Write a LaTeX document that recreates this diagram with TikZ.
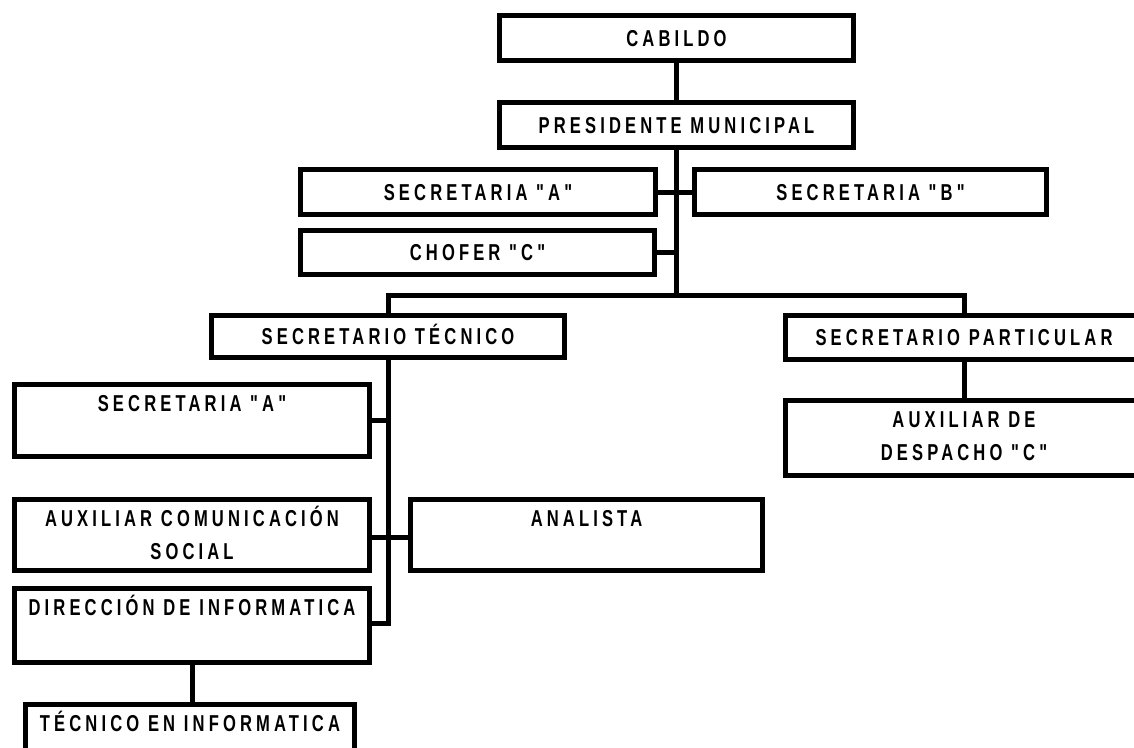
\documentclass[tikz,border=0pt]{standalone}
\usepackage{fontspec}
\newfontfamily\orgfont{Liberation Sans}[FakeStretch=0.72, LetterSpace=18]
\tikzset{
  lbl/.style={font=\orgfont\bfseries\fontsize{23}{33}\selectfont, inner sep=0pt,
    text height=16pt, text depth=0pt, align=center},
  lbltwo/.style={lbl, text height=49pt},
  box/.style={draw, line width=5pt, fill=white, inner sep=0pt, lbl},
  conn/.style={line width=5pt},
}
\begin{document}
\begin{tikzpicture}[x=1pt,y=-1pt]
\useasboundingbox[fill=white] (0,0) rectangle (1134,747);
% connectors
\coordinate (barc) at (676.5,295);
\draw[conn] (676.5,38) -- (676.5,125);
\draw[conn] (676.5,125) -- (barc);
\draw[conn] (478,192) -- (870.5,192);
\draw[conn] (477.5,252.5) -- (676.5,252.5);
\draw[conn] (388,336.5) |- (barc) -| (964,337.5);
\draw[conn] (964,337.5) -- (964,438);
\draw[conn] (388,336.5) |- (192,623);
\draw[conn] (192,420.5) -- (388,420.5);
\draw[conn] (192,537) -- (586.5,537);
\draw[conn] (192,625.5) -- (192,731);
% boxes
\node[box, minimum width=354pt, minimum height=45pt] (cab) at (676.5,38) {CABILDO};
\node[box, minimum width=354pt, minimum height=45pt] (pres) at (676.5,125) {PRESIDENTE MUNICIPAL};
\node[box, minimum width=355pt, minimum height=45pt] (secA1) at (478,192) {SECRETARIA "A"};
\node[box, minimum width=352pt, minimum height=45pt] (secB) at (870.5,192) {SECRETARIA "B"};
\node[box, minimum width=354pt, minimum height=44pt] (chof) at (477.5,252.5) {CHOFER "C"};
\node[box, minimum width=353pt, minimum height=42pt] (st) at (388,336.5) {SECRETARIO TÉCNICO};
\node[box, minimum width=357pt, minimum height=44pt] (sp) at (964,337.5) {SECRETARIO PARTICULAR};
\node[box, minimum width=357pt, minimum height=75pt] (auxd) at (964,438) {};
\node[box, minimum width=355pt, minimum height=72pt] (secA2) at (192,420.5) {};
\node[box, minimum width=355pt, minimum height=71pt] (auxc) at (192,535) {};
\node[box, minimum width=352pt, minimum height=71pt] (anal) at (586.5,535) {};
\node[box, minimum width=355pt, minimum height=74pt] (dir) at (192,625.5) {};
\node[box, minimum width=329pt, minimum height=53pt] (tec) at (190,731) {};
% texts in tall boxes
\node[lbltwo, anchor=north] (auxdt) at ([yshift=-13.5pt]auxd.north) {AUXILIAR DE\\DESPACHO "C"};
\node[lbl, anchor=north] (secA2t) at ([yshift=-13.5pt]secA2.north) {SECRETARIA "A"};
\node[lbltwo, anchor=north] (auxct) at ([yshift=-13.5pt]auxc.north) {AUXILIAR COMUNICACIÓN\\SOCIAL};
\node[lbl, anchor=north] (analt) at ([yshift=-13.5pt]anal.north) {ANALISTA};
\node[lbl, anchor=north] (dirt) at ([yshift=-13.5pt]dir.north) {DIRECCIÓN DE INFORMATICA};
\node[lbl, anchor=north] (tect) at ([yshift=-13.5pt]tec.north) {TÉCNICO EN INFORMATICA};
\end{tikzpicture}
\end{document}
